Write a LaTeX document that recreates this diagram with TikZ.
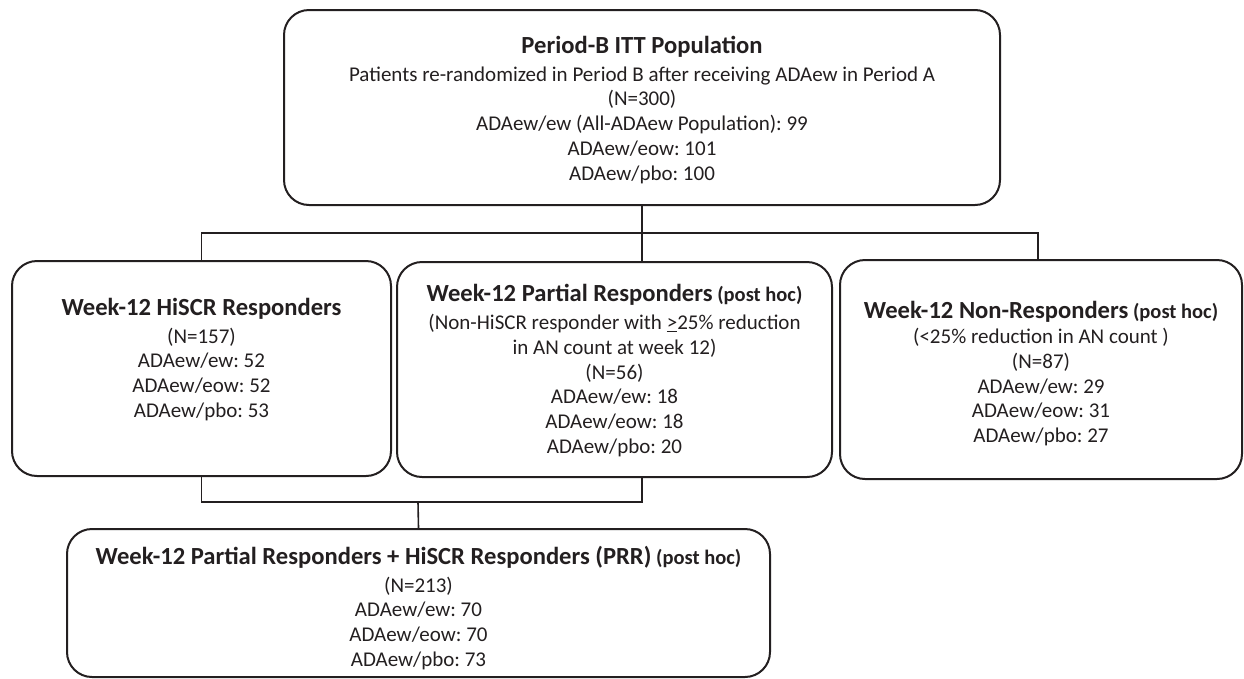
\documentclass[tikz,border=0pt]{standalone}
\usepackage{fontspec}
\setmainfont{Carlito}
\frenchspacing
\definecolor{ink}{HTML}{231F20}
\tikzset{
  box/.style={draw=ink, line width=2pt, rounded corners=25pt, rectangle, inner sep=0pt},
  conn/.style={draw=ink, line width=1.6pt},
  txt/.style={text=ink, align=center, anchor=north, inner sep=0pt,
    font=\fontsize{21}{24.7}\selectfont\frenchspacing},
}
\newcommand{\ttl}[1]{{\fontsize{24.6}{28}\selectfont\bfseries #1}}
\newcommand{\ph}[1]{{\fontsize{20.5}{24}\selectfont\bfseries #1}}
\begin{document}
\begin{tikzpicture}[x=1pt,y=-1pt]
\useasboundingbox (0,0) rectangle (1244,678);
% boxes
\node[box, minimum width=716pt, minimum height=195pt] (top) at (642,107.5) {};
\node[box, minimum width=379pt, minimum height=215pt] (left) at (201.5,368.5) {};
\node[box, minimum width=435pt, minimum height=215pt] (mid) at (614.5,369.5) {};
\node[box, minimum width=402pt, minimum height=219pt] (right) at (1041,369.5) {};
\node[box, minimum width=703pt, minimum height=148pt] (bottom) at (418.5,603) {};
% texts
\node[txt] (topT) at (642,36) {\ttl{Period-B ITT Population}\\[3pt]
Patients re-randomized in Period B after receiving ADAew in Period A\\
(N=300)\\
ADAew/ew (All-ADAew Population): 99\\
ADAew/eow: 101\\
ADAew/pbo: 100};
\node[txt] (leftT) at (201.5,298) {\ttl{Week-12 HiSCR Responders}\\[3pt]
(N=157)\\
ADAew/ew: 52\\
ADAew/eow: 52\\
ADAew/pbo: 53};
\node[txt] (midT) at (614.5,284) {\ttl{Week-12 Partial Responders} \ph{(post hoc)}\\[3.5pt]
(Non-HiSCR responder with \underline{>}25\% reduction\\
in AN count at week 12)\\
(N=56)\\
ADAew/ew: 18\\
ADAew/eow: 18\\
ADAew/pbo: 20};
\node[txt] (rightT) at (1041,301) {\ttl{Week-12 Non-Responders} \ph{(post hoc)}\\[0.5pt]
(<25\% reduction in AN count )\\
(N=87)\\
ADAew/ew: 29\\
ADAew/eow: 31\\
ADAew/pbo: 27};
\node[txt] (bottomT) at (418.5,546) {\ttl{Week-12 Partial Responders + HiSCR Responders (PRR)} \ph{(post hoc)}\\[3pt]
(N=213)\\
ADAew/ew: 70\\
ADAew/eow: 70\\
ADAew/pbo: 73};
% connectors
\coordinate (bus) at (642,233);
\coordinate (bus2) at (418,502);
\coordinate (rdrop) at (1038,233);
\draw[conn] (top.south -| bus) -- (bus);
\draw[conn] (left.north) |- (rdrop) -- (rdrop |- right.north);
\draw[conn] (bus) -- (bus |- mid.north);
\draw[conn] (left.south) |- (bus2 -| bus) -- (bus |- mid.south);
\draw[conn] (bus2) -- (bottom.north);
\end{tikzpicture}
\end{document}
